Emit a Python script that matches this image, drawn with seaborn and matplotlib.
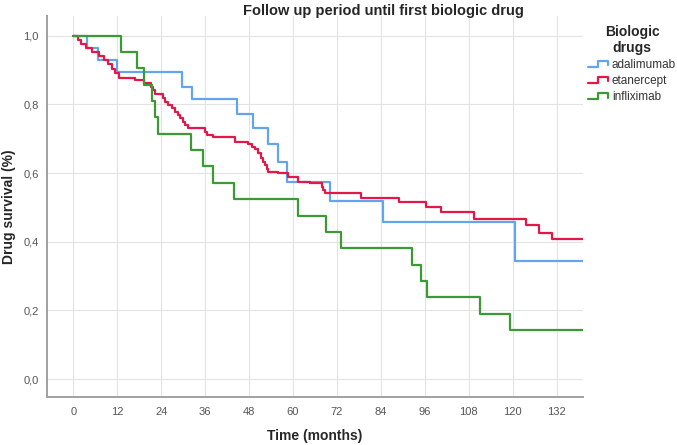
import numpy as np
import pandas as pd
import matplotlib
matplotlib.use('Agg')
import matplotlib.pyplot as plt
import seaborn as sns
from matplotlib.lines import Line2D
from matplotlib.legend_handler import HandlerLine2D
from matplotlib.ticker import FuncFormatter

# Kaplan-Meier steps (months, survival)
adalimumab_time = [0, 3.7, 6.8, 11.8, 29.8, 32.5, 44.6, 49.1, 53.2, 55.8, 58.4, 70.1, 84.6, 120.6]
adalimumab_surv = [1.0, 0.964, 0.929, 0.893, 0.851, 0.814, 0.773, 0.732, 0.684, 0.631, 0.574, 0.518, 0.458, 0.344]

etanercept_time = [0, 1.2, 2.2, 3.5, 5.0, 7.0, 8.3, 9.5, 10.5, 11.3, 12.5, 16.8, 19.2, 21.2, 21.8, 22.4,
                   24.6, 25.0, 25.9, 26.9, 27.8, 28.7, 29.1, 29.9, 30.5, 31.4, 36.0, 36.4, 38.2, 44.1,
                   47.8, 48.7, 49.6, 50.5, 51.4, 51.9, 52.3, 52.8, 53.2, 56.0, 58.7, 61.4, 64.6, 67.8,
                   68.3, 68.7, 78.7, 89.0, 96.3, 100.4, 109.5, 123.7, 127.2, 130.8]
etanercept_surv = [1.0, 0.988, 0.976, 0.964, 0.952, 0.940, 0.928, 0.916, 0.904, 0.892, 0.878, 0.870, 0.862,
                   0.851, 0.841, 0.830, 0.817, 0.807, 0.798, 0.788, 0.778, 0.769, 0.759, 0.749, 0.739,
                   0.732, 0.720, 0.710, 0.705, 0.691, 0.684, 0.676, 0.669, 0.657, 0.643, 0.633, 0.623,
                   0.613, 0.604, 0.599, 0.587, 0.574, 0.570, 0.560, 0.550, 0.542, 0.528, 0.515, 0.500,
                   0.486, 0.467, 0.448, 0.426, 0.407]

infliximab_time = [0, 13.0, 17.3, 19.3, 21.4, 22.3, 23.2, 32.1, 35.3, 38.2, 43.9, 61.4, 68.9, 73.0,
                   92.4, 95.1, 96.5, 111.0, 119.4]
infliximab_surv = [1.0, 0.952, 0.905, 0.857, 0.810, 0.762, 0.714, 0.667, 0.619, 0.571, 0.524, 0.476,
                   0.429, 0.381, 0.333, 0.286, 0.238, 0.190, 0.143]

drugs = ['adalimumab', 'etanercept', 'infliximab']
colors = {'adalimumab': '#62a4ee', 'etanercept': '#e3184a', 'infliximab': '#3b9a35'}

X_MAX = 139.2
x_ticks = list(range(0, 133, 12))
y_ticks = [0.0, 0.2, 0.4, 0.6, 0.8, 1.0]


class StepHandler(HandlerLine2D):
    # small step glyph like the SPSS legend
    def create_artists(self, legend, orig_handle, xdescent, ydescent, width, height, fontsize, trans):
        xs = np.array([0, 0.48, 0.48, 1, 1]) * width - xdescent
        ys = np.array([0.15, 0.15, 0.85, 0.85, 0.35]) * height - ydescent
        line = Line2D(xs, ys, color=orig_handle.get_color(), lw=orig_handle.get_linewidth())
        line.set_transform(trans)
        return [line]


def build_frame():
    rows = []
    for name, t, s in [('adalimumab', adalimumab_time, adalimumab_surv),
                       ('etanercept', etanercept_time, etanercept_surv),
                       ('infliximab', infliximab_time, infliximab_surv)]:
        t = list(t) + [X_MAX]
        s = list(s) + [s[-1]]
        for ti, si in zip(t, s):
            rows.append({'drug': name, 'time': ti, 'surv': si})
    return pd.DataFrame(rows)


def main():
    sns.set_style('white')
    plt.rcParams['font.family'] = ['Liberation Sans', 'DejaVu Sans']

    df = build_frame()

    fig = plt.figure(figsize=(6.77, 4.45), dpi=100)
    ax = fig.add_axes([0.0694, 0.1079, 0.7916, 0.8561])

    sns.lineplot(data=df, x='time', y='surv', hue='drug', hue_order=drugs, palette=colors,
                 estimator=None, sort=False, drawstyle='steps-post', linewidth=1.6,
                 legend=False, ax=ax)

    ax.set_xlim(-7.2, X_MAX)
    ax.set_ylim(-0.052, 1.057)
    ax.set_xticks(x_ticks)
    ax.set_yticks(y_ticks)
    ax.yaxis.set_major_formatter(FuncFormatter(lambda v, p: f'{v:.1f}'.replace('.', ',')))
    ax.tick_params(length=0, labelsize=8, colors='#555555', pad=6)
    ax.tick_params(axis='x', pad=7)
    ax.grid(True, color='#e3e3e3', linewidth=0.8)
    ax.set_axisbelow(True)
    for side in ['top', 'right']:
        ax.spines[side].set_visible(False)
    for side in ['left', 'bottom']:
        ax.spines[side].set_color('#a0a0a0')
        ax.spines[side].set_linewidth(1.4)

    ax.set_xlabel('Time (months)', fontsize=10, fontweight='bold', labelpad=9)
    ax.set_ylabel('Drug survival (%)', fontsize=10, fontweight='bold', labelpad=5)

    fig.text(0.566, 0.975, 'Follow up period until first biologic drug',
             ha='center', va='center', fontsize=10.5, fontweight='bold')

    handles = [Line2D([0], [0], color=colors[d], lw=1.6) for d in drugs]
    leg = ax.legend(handles, drugs, loc='upper left', bbox_to_anchor=(0.862, 0.955),
                    bbox_transform=fig.transFigure, frameon=False, fontsize=8.5,
                    title='Biologic\ndrugs', title_fontproperties={'weight': 'bold', 'size': 10},
                    handler_map={Line2D: StepHandler()}, handlelength=1.7, handleheight=0.8,
                    handletextpad=0.3, labelspacing=0.35, borderaxespad=0)
    for txt in leg.get_texts():
        txt.set_color('#333333')
    leg.get_title().set_multialignment('center')

    plt.savefig('out.png', dpi=100)


if __name__ == "__main__":
    main()
